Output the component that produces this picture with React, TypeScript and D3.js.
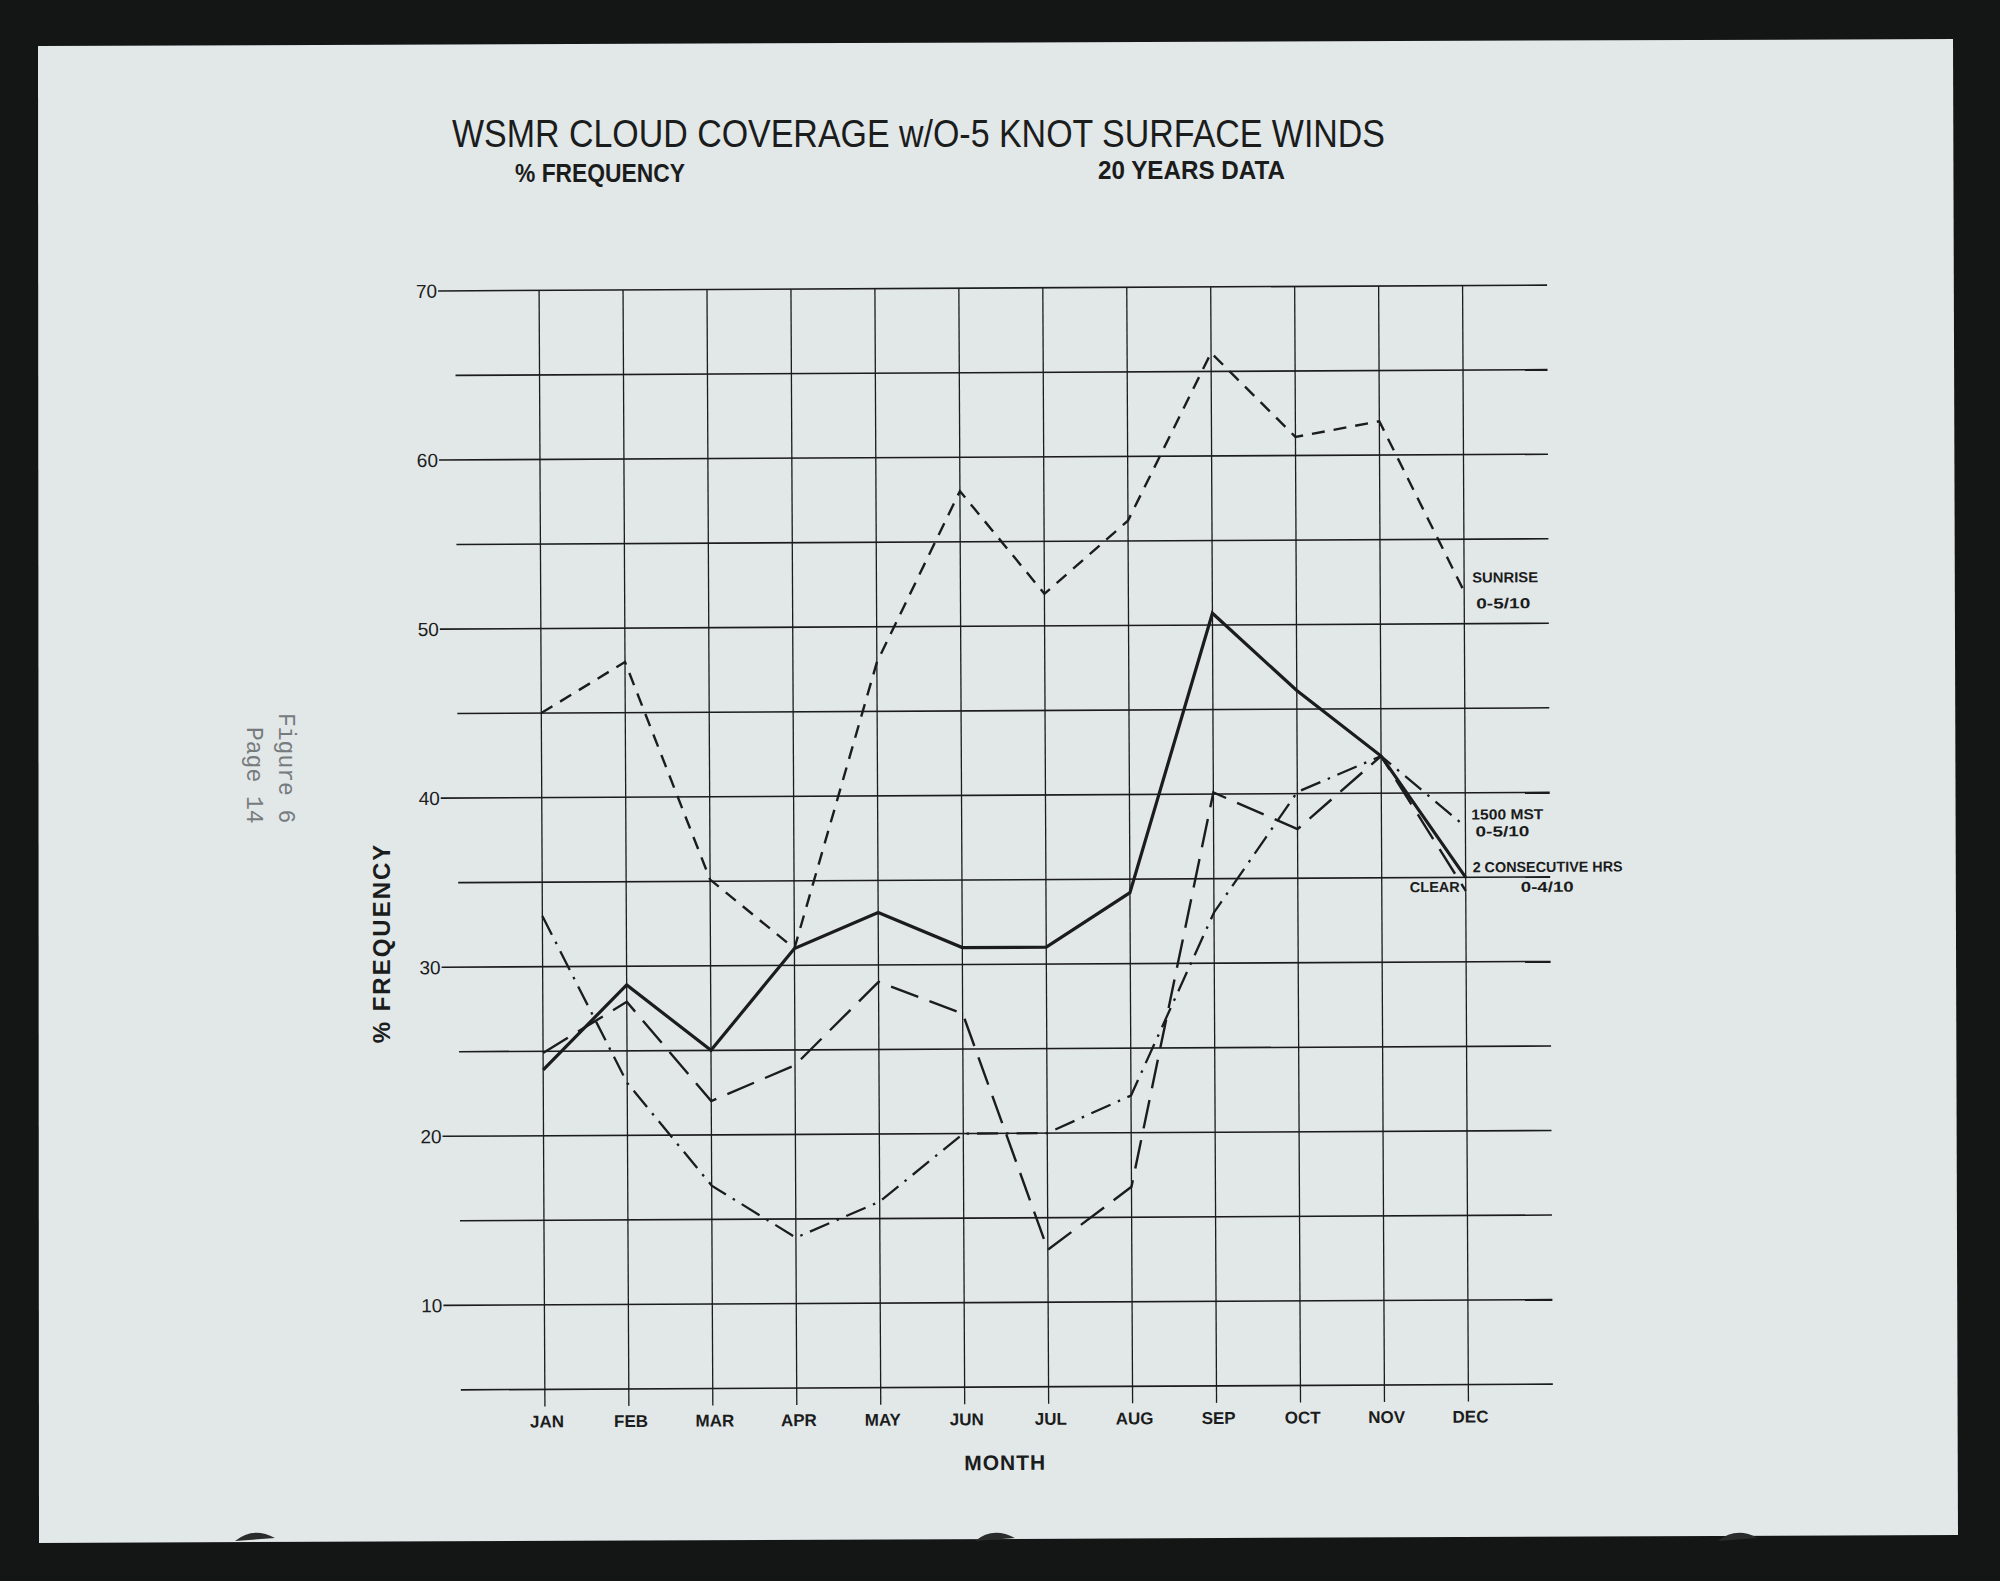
import * as d3 from "d3";

// ---- data ----
const MONTHS = ["JAN", "FEB", "MAR", "APR", "MAY", "JUN", "JUL", "AUG", "SEP", "OCT", "NOV", "DEC"];
const Y_LABELS = [10, 20, 30, 40, 50, 60, 70];
const GRID_VALUES = [5, 10, 15, 20, 25, 30, 35, 40, 45, 50, 55, 60, 65, 70];

// short dashes
const SUNRISE = [45, 48, 35.1, 31, 47.9, 58, 51.9, 56.2, 66.1, 61.1, 62, 51.9];
// dash-dot
const MST_1500 = [33, 23.1, 17, 13.9, 16, 20, 20, 22.2, 33, 40.1, 42.2, 38];
// solid heavy
const CONSECUTIVE_HRS = [23.9, 28.9, 25, 31, 33.1, 31, 31, 34.2, 50.7, 46.1, 42.2, 35];
// long dashes
const CLEAR = [24.9, 27.9, 22, 24.1, 29, 27.1, 13.1, 16.8, 40.1, 37.9, 42.2, 34.2];

const W = 2000;
const H = 1581;
const INK = "#1b1c1c";
const PAPER = "#e2e7e8";

export default function App() {
  /* scales (frame is slightly rotated like the photo) */
  const x = d3.scalePoint<string>().domain(MONTHS).range([542, 1465.5]);
  const y = d3.scaleLinear().domain([5, 70]).range([1387, 288]);

  const line = d3
    .line<number>()
    .x((_, i) => x(MONTHS[i]) as number)
    .y((d) => y(d));

  const series = [
    { key: "sunrise", values: SUNRISE, dash: "13 9", width: 2.4 },
    { key: "mst", values: MST_1500, dash: "21 8 2.5 8", width: 2.3 },
    { key: "clear", values: CLEAR, dash: "29 12", width: 2.4 },
    { key: "hrs", values: CONSECUTIVE_HRS, dash: "none", width: 3.2 },
  ];

  const gridRight = 1550;
  const xDec = x("DEC") as number;

  return (
    <svg
      width={W}
      height={H}
      style={{ position: "absolute", left: 0, top: 0 }}
      fontFamily="'Liberation Sans', Arial, sans-serif"
    >
      <rect width={W} height={H} fill="#131615" />
      <polygon points="38,46 1953,39 1958,1535 39,1543" fill={PAPER} />
      {/* binder tabs at the bottom edge */}
      {[255, 995, 1738].map((bx) => (
        <path
          key={bx}
          d={`M${bx - 20},1541 Q${bx - 2},1526 ${bx + 20},1538 Z`}
          fill="#2a2c2c"
        />
      ))}

      {/* titles */}
      <text x={452} y={147} fontSize={38} fill={INK} textLength={933} lengthAdjust="spacingAndGlyphs">
        WSMR  CLOUD  COVERAGE  w/O-5 KNOT  SURFACE  WINDS
      </text>
      <text x={515} y={182} fontSize={25} fontWeight="bold" fill={INK} textLength={170} lengthAdjust="spacingAndGlyphs">
        % FREQUENCY
      </text>
      <text x={1098} y={179} fontSize={25} fontWeight="bold" fill={INK} textLength={187} lengthAdjust="spacingAndGlyphs">
        20 YEARS DATA
      </text>

      {/* typewritten side note */}
      <g fontFamily="'Liberation Mono', 'DejaVu Sans Mono', monospace" fontSize={23} fill="#767b7d">
        <text transform="translate(279,713) rotate(90)">Figure 6</text>
        <text transform="translate(247,727) rotate(90)">Page 14</text>
      </g>

      <text
        transform="translate(390,943) rotate(-90)"
        textAnchor="middle"
        fontSize={24}
        fontWeight="bold"
        fill={INK}
        letterSpacing={2}
      >
        %  FREQUENCY
      </text>

      <g transform="rotate(-0.3 1000 845)">
        {/* horizontal grid */}
        {GRID_VALUES.map((v) => (
          <line
            key={v}
            x1={Y_LABELS.includes(v) ? 441 : 458}
            x2={gridRight}
            y1={y(v)}
            y2={y(v)}
            stroke={INK}
            strokeWidth={1.6}
          />
        ))}
        {/* vertical grid */}
        {MONTHS.map((m) => (
          <line
            key={m}
            x1={x(m)}
            x2={x(m)}
            y1={y(70)}
            y2={y(5) + 17}
            stroke={INK}
            strokeWidth={1.3}
          />
        ))}

        {Y_LABELS.map((v) => (
          <text
            key={v}
            x={440}
            y={y(v)}
            dy="0.36em"
            textAnchor="end"
            fontSize={19}
            fill={INK}
          >
            {v}
          </text>
        ))}

        {MONTHS.map((m) => (
          <text
            key={m}
            x={(x(m) as number) + 2}
            y={1425}
            textAnchor="middle"
            fontSize={17}
            fontWeight="bold"
            fill={INK}
          >
            {m}
          </text>
        ))}
        <text x={1002} y={1470} textAnchor="middle" fontSize={21} fontWeight="bold" fill={INK} letterSpacing={1}>
          MONTH
        </text>

        {/* data lines */}
        {series.map((s) => (
          <path
            key={s.key}
            d={line(s.values) as string}
            fill="none"
            stroke={INK}
            strokeWidth={s.width}
            strokeDasharray={s.dash}
            strokeLinejoin="miter"
          />
        ))}

        {/* end labels */}
        <g fontSize={14.5} fontWeight="bold" fill={INK}>
          <text x={xDec + 8} y={y(SUNRISE[11]) - 9} textLength={66} lengthAdjust="spacingAndGlyphs">SUNRISE</text>
          <text x={xDec + 12} y={y(SUNRISE[11]) + 17} textLength={54} lengthAdjust="spacingAndGlyphs">0-5/10</text>
          <text x={xDec + 6} y={y(MST_1500[11]) - 7} textLength={72} lengthAdjust="spacingAndGlyphs">1500 MST</text>
          <text x={xDec + 10} y={y(MST_1500[11]) + 10} textLength={54} lengthAdjust="spacingAndGlyphs">0-5/10</text>
          <text x={xDec + 7} y={y(CONSECUTIVE_HRS[11]) - 5} textLength={150} lengthAdjust="spacingAndGlyphs">
            2 CONSECUTIVE  HRS
          </text>
          <text x={xDec + 55} y={y(CONSECUTIVE_HRS[11]) + 15} textLength={53} lengthAdjust="spacingAndGlyphs">0-4/10</text>
          <text x={xDec - 6} y={y(CLEAR[11]) + 1} textAnchor="end">CLEAR</text>
        </g>
      </g>
    </svg>
  );
}
